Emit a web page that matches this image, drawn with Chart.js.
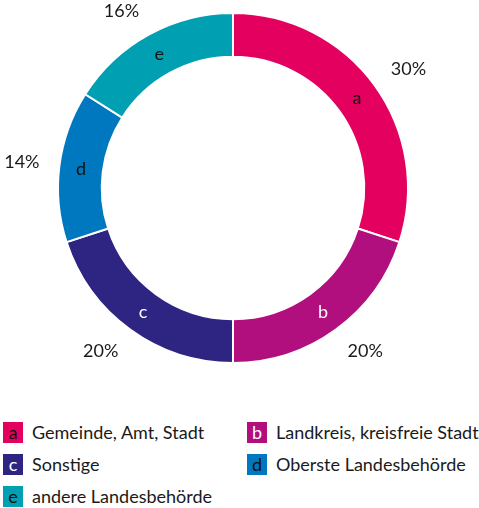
<!DOCTYPE html>
<html>
<head>
<meta charset="utf-8">
<script src="https://cdn.jsdelivr.net/npm/chart.js@4/dist/chart.umd.min.js"></script>
<style>
  body { margin: 0; background: #fff; font-family: Lato, "Open Sans", sans-serif; }
  #wrap { position: relative; width: 479px; height: 508px; }
  #c { position: absolute; left: 0; top: 0; }
  #legend { position: absolute; left: 3px; top: 421px; width: 476px; display: grid; grid-template-columns: 244px 232px; row-gap: 10px; }
  .item { display: flex; align-items: center; height: 22px; font-size: 18px; color: #1a1a1a; white-space: nowrap; }
  .box { width: 20px; height: 21px; margin-right: 9px; display: flex; align-items: center; justify-content: center; font-size: 18px; line-height: 1; }
</style>
</head>
<body>
<div id="wrap">
  <canvas id="c" width="479" height="400"></canvas>
  <div id="legend"></div>
</div>
<script>
const letters = ["a", "b", "c", "d", "e"];
const names = ["Gemeinde, Amt, Stadt", "Landkreis, kreisfreie Stadt", "Sonstige", "Oberste Landesbehörde", "andere Landesbehörde"];
const shares = [30, 20, 20, 14, 16];
const colors = ["#e3005f", "#b10e7e", "#2e2583", "#0078c0", "#009fb1"];
const letterColors = ["#111", "#fff", "#fff", "#111", "#111"];

// legend
var lg = document.getElementById('legend');
for (var i = 0; i < letters.length; i++) {
  var it = document.createElement('div');
  it.className = 'item';
  it.innerHTML = '<span class="box" style="background:' + colors[i] + ';color:' + letterColors[i] + '">' + letters[i] + '</span>' + names[i];
  lg.appendChild(it);
}

const labelPlugin = {
  id: 'labels',
  afterDatasetsDraw(chart) {
    const ctx = chart.ctx;
    const meta = chart.getDatasetMeta(0);
    ctx.save();
    ctx.textAlign = 'center';
    ctx.textBaseline = 'middle';
    ctx.font = '18px Lato';
    meta.data.forEach(function(arc, i) {
      const mid = (arc.startAngle + arc.endAngle) / 2;
      const ux = Math.cos(mid), uy = Math.sin(mid);
      const rIn = (arc.innerRadius + arc.outerRadius) / 2;
      ctx.fillStyle = letterColors[i];
      ctx.fillText(letters[i], arc.x + ux * rIn, arc.y + uy * rIn);
      // percent label sits just outside the ring, pushed off by half its box
      const txt = shares[i] + '%';
      const w = ctx.measureText(txt).width / 2;
      const rOut = arc.outerRadius + 20;
      ctx.fillStyle = '#1a1a1a';
      ctx.fillText(txt, arc.x + ux * rOut + Math.sign(ux) * w, arc.y + uy * rOut + uy * 7);
    });
    ctx.restore();
  }
};

new Chart(document.getElementById('c'), {
  type: 'doughnut',
  data: {
    labels: names,
    datasets: [{
      data: shares,
      backgroundColor: colors,
      borderColor: '#fff',
      borderWidth: 2
    }]
  },
  options: {
    responsive: false,
    animation: false,
    cutout: '75%',
    layout: { padding: { left: 57, right: 70, top: 12, bottom: 36 } },
    plugins: {
      legend: { display: false },
      tooltip: { enabled: false }
    }
  },
  plugins: [labelPlugin]
});
</script>
</body>
</html>
